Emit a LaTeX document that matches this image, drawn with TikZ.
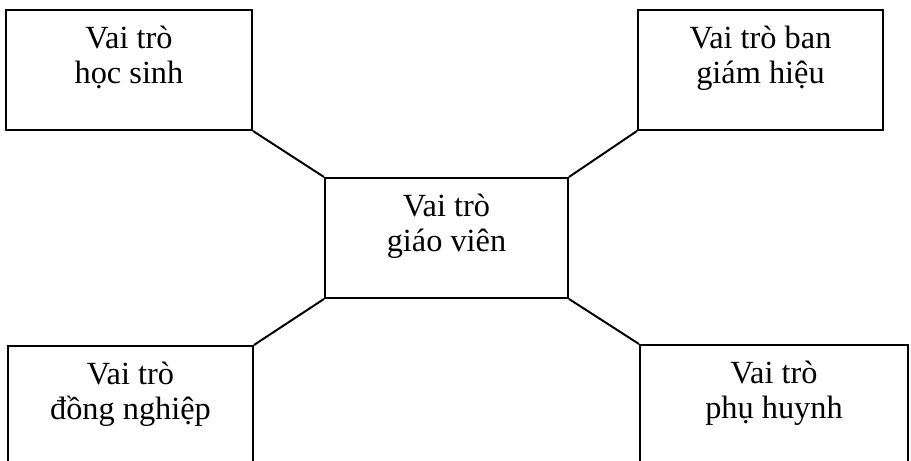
\documentclass[tikz,border=0pt]{standalone}
\usepackage{fontspec}
\setmainfont{Liberation Serif}
\usepackage{tikz}
\usetikzlibrary{positioning}
\tikzset{
  vaitro/.style={draw,line width=1.4pt,anchor=north west,inner sep=0pt,align=center,
    minimum height=3cm,text height=1.85cm,text depth=1.15cm,font=\fontsize{23}{25}\selectfont},
  noi/.style={line width=1.4pt}
}

\begin{document}
\begin{tikzpicture}
  \useasboundingbox (0,0) rectangle (22.775,-11.525);
  \clip (0,0) rectangle (22.775,-11.525);

  \node[vaitro,minimum width=6.15cm] (hocsinh) at (0.125,-0.225) {Vai trò\\học sinh};
  \node[vaitro,minimum width=6.125cm] (bgh) at (15.925,-0.225) {Vai trò ban\\giám hiệu};
  \node[vaitro,minimum width=6.075cm] (giaovien) at (8.1,-4.425) {Vai trò\\giáo viên};
  \node[vaitro,minimum width=6.125cm] (dongnghiep) at (0.175,-8.625) {Vai trò\\đồng nghiệp};
  \node[vaitro,minimum width=6.7cm] (phuhuynh) at (15.975,-8.6) {Vai trò\\phụ huynh};

  % Connectors
  \draw[noi] (hocsinh.south east) -- (giaovien.north west);
  \draw[noi] (bgh.south west) -- (giaovien.north east);
  \draw[noi] (dongnghiep.north east) -- (giaovien.south west);
  \draw[noi] (phuhuynh.north west) -- (giaovien.south east);
\end{tikzpicture}
\end{document}
